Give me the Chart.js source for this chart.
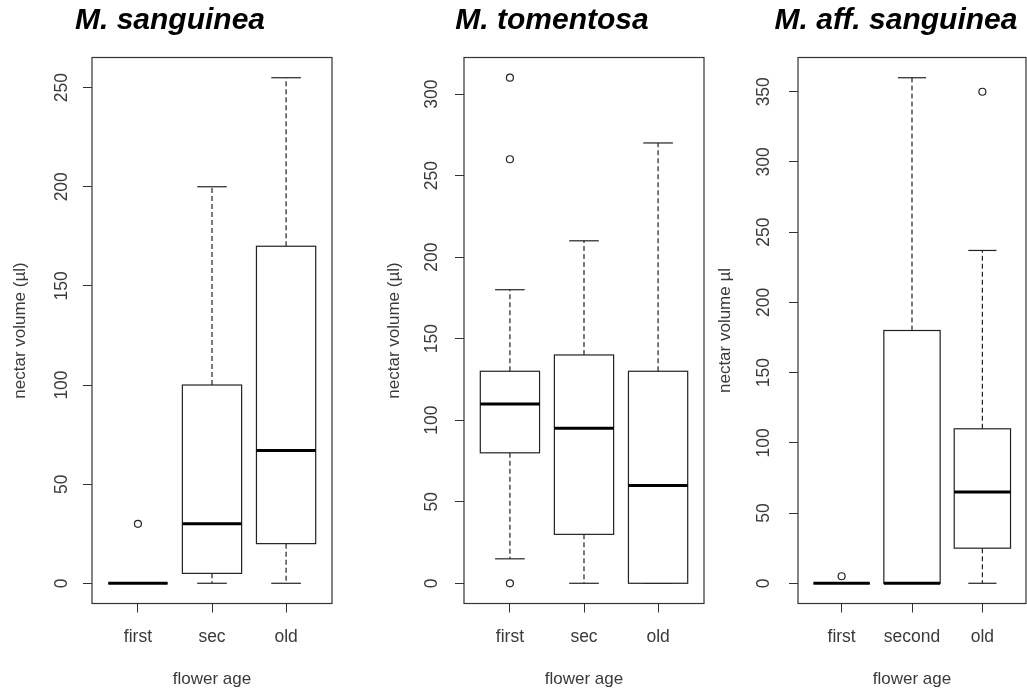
<!DOCTYPE html>
<html>
<head>
<meta charset="utf-8">
<script src="https://cdn.jsdelivr.net/npm/chart.js@4.4.1/dist/chart.umd.min.js"></script>
<style>
  html, body { margin: 0; padding: 0; background: #fff; overflow: hidden; }
  body { width: 1027px; height: 693px; position: relative; }
  canvas { position: absolute; top: 0; }
</style>
</head>
<body>
<canvas id="c1" width="345" height="693" style="left:0px"></canvas>
<canvas id="c2" width="365" height="693" style="left:345px"></canvas>
<canvas id="c3" width="336" height="693" style="left:710px"></canvas>
<script>
// M. sanguinea
const sangAges = ['first', 'sec', 'old'];
const sangMin = [0, 0, 0];
const sangQ1 = [0, 5, 20];
const sangMed = [0, 30, 67];
const sangQ3 = [0, 100, 170];
const sangMax = [0, 200, 255];
const sangOut = [[30], [], []];
const sangTicks = [0, 50, 100, 150, 200, 250];

// M. tomentosa
const tomAges = ['first', 'sec', 'old'];
const tomMin = [15, 0, 0];
const tomQ1 = [80, 30, 0];
const tomMed = [110, 95, 60];
const tomQ3 = [130, 140, 130];
const tomMax = [180, 210, 270];
const tomOut = [[0, 260, 310], [], []];
const tomTicks = [0, 50, 100, 150, 200, 250, 300];

// M. aff. sanguinea
const affAges = ['first', 'second', 'old'];
const affMin = [0, 0, 0];
const affQ1 = [0, 0, 25];
const affMed = [0, 0, 65];
const affQ3 = [0, 180, 110];
const affMax = [0, 360, 237];
const affOut = [[5], [], [350]];
const affTicks = [0, 50, 100, 150, 200, 250, 300, 350];

const FAMILY = "'Liberation Sans', Arial, sans-serif";
const INK = '#222';
const GREY = '#3a3a3a';

// R style boxplot drawn through the chart scales
const rBoxPlugin = {
    id: 'rbox',
    beforeDatasetsDraw(chart, args, opts) {
        const { ctx, scales: { x, y } } = chart;
        const s = opts.stats;
        const seg = (x1, y1, x2, y2) => {
            ctx.beginPath();
            ctx.moveTo(x1, y1);
            ctx.lineTo(x2, y2);
            ctx.stroke();
        };
        ctx.save();
        ctx.strokeStyle = INK;
        for (let i = 0; i < s.med.length; i++) {
            const xc = x.getPixelForValue(i + 1);
            const hw = x.getPixelForValue(i + 1.4) - xc;
            const sw = hw / 2;
            const yMin = y.getPixelForValue(s.min[i]);
            const yQ1 = y.getPixelForValue(s.q1[i]);
            const yMed = y.getPixelForValue(s.med[i]);
            const yQ3 = y.getPixelForValue(s.q3[i]);
            const yMax = y.getPixelForValue(s.max[i]);

            ctx.lineWidth = 1.2;
            ctx.setLineDash([5, 3]);
            if (yMax < yQ3) seg(xc, yQ3, xc, yMax);
            if (yMin > yQ1) seg(xc, yQ1, xc, yMin);
            ctx.setLineDash([]);
            seg(xc - sw, yMax, xc + sw, yMax);
            seg(xc - sw, yMin, xc + sw, yMin);

            ctx.fillStyle = '#fff';
            ctx.fillRect(xc - hw, yQ3, 2 * hw, yQ1 - yQ3);
            ctx.strokeRect(xc - hw, yQ3, 2 * hw, yQ1 - yQ3);

            ctx.lineWidth = 3;
            ctx.strokeStyle = '#000';
            seg(xc - hw, yMed, xc + hw, yMed);
            ctx.strokeStyle = INK;
        }
        ctx.restore();
    },
    afterDraw(chart) {
        const { ctx, chartArea: a } = chart;
        ctx.save();
        ctx.strokeStyle = '#333';
        ctx.lineWidth = 1.2;
        ctx.strokeRect(a.left, a.top, a.right - a.left, a.bottom - a.top);
        ctx.restore();
    }
};

function makePanel(id, p) {
    const all = p.min.concat(p.max, [].concat(...p.out));
    const lo = Math.min(...all), hi = Math.max(...all);
    const ext = (hi - lo) * 0.04;

    const points = [];
    p.out.forEach((vals, i) => vals.forEach(v => points.push({ x: i + 1, y: v })));

    new Chart(document.getElementById(id), {
        type: 'scatter',
        data: {
            datasets: [{
                data: points,
                pointStyle: 'circle',
                pointRadius: 3.5,
                borderWidth: 1.2,
                borderColor: INK,
                backgroundColor: '#fff'
            }]
        },
        options: {
            responsive: false,
            devicePixelRatio: 1,
            animation: false,
            layout: { padding: { left: p.padL, right: p.padR, top: 0, bottom: 0 } },
            plugins: {
                legend: { display: false },
                tooltip: { enabled: false },
                title: {
                    display: true,
                    text: p.title,
                    color: '#000',
                    font: { family: FAMILY, size: 30, weight: 'bold', style: 'italic' },
                    padding: { top: 3, bottom: 18.5 }
                },
                rbox: { stats: { min: p.min, q1: p.q1, med: p.med, q3: p.q3, max: p.max } }
            },
            scales: {
                x: {
                    type: 'linear',
                    min: 0.38,
                    max: 3.62,
                    afterBuildTicks: s => { s.ticks = p.ages.map((a, i) => ({ value: i + 1 })); },
                    afterFit: s => { s.height = 89.5; },
                    ticks: {
                        callback: (v, i) => p.ages[i],
                        autoSkip: false,
                        maxRotation: 0,
                        padding: 14.5,
                        color: GREY,
                        font: { family: FAMILY, size: 17.5 }
                    },
                    grid: { drawOnChartArea: false, tickLength: 9, color: '#333' },
                    border: { display: false },
                    title: {
                        display: true,
                        text: 'flower age',
                        color: GREY,
                        font: { family: FAMILY, size: 17 },
                        padding: { top: 0, bottom: 3.5 }
                    }
                },
                y: {
                    type: 'linear',
                    min: lo - ext,
                    max: hi + ext,
                    afterBuildTicks: s => { s.ticks = p.ticks.map(v => ({ value: v })); },
                    afterFit: s => { s.width = p.wy; },
                    ticks: {
                        minRotation: 90,
                        maxRotation: 90,
                        crossAlign: 'center',
                        autoSkip: false,
                        padding: p.tickPad,
                        color: GREY,
                        font: { family: FAMILY, size: 17.5 }
                    },
                    grid: { drawOnChartArea: false, tickLength: 9, color: '#333' },
                    border: { display: false },
                    title: {
                        display: true,
                        text: p.yTitle,
                        color: GREY,
                        font: { family: FAMILY, size: 17 },
                        padding: { top: p.yTitlePad, bottom: 0 }
                    }
                },
                // empty spacer on the right so the title sits where R put it
                spacer: {
                    type: 'linear',
                    position: 'right',
                    display: p.wr > 0,
                    afterFit: s => { s.width = p.wr; },
                    ticks: { display: false },
                    grid: { display: false },
                    border: { display: false }
                }
            }
        },
        plugins: [rBoxPlugin]
    });
}

makePanel('c1', {
    title: 'M. sanguinea', yTitle: 'nectar volume (µl)',
    ages: sangAges, min: sangMin, q1: sangQ1, med: sangMed, q3: sangQ3, max: sangMax,
    out: sangOut, ticks: sangTicks,
    padL: 8, padR: 13, wy: 84, wr: 0, tickPad: 6.4, yTitlePad: 1.8
});
makePanel('c2', {
    title: 'M. tomentosa', yTitle: 'nectar volume (µl)',
    ages: tomAges, min: tomMin, q1: tomQ1, med: tomMed, q3: tomQ3, max: tomMax,
    out: tomOut, ticks: tomTicks,
    padL: 55, padR: 6, wy: 64, wr: 0, tickPad: 8.4, yTitlePad: -16.2
});
makePanel('c3', {
    title: 'M. aff. sanguinea', yTitle: 'nectar volume µl',
    ages: affAges, min: affMin, q1: affQ1, med: affMed, q3: affQ3, max: affMax,
    out: affOut, ticks: affTicks,
    padL: 36, padR: 0, wy: 52, wr: 20, tickPad: 10.4, yTitlePad: -31.2
});
</script>
</body>
</html>
